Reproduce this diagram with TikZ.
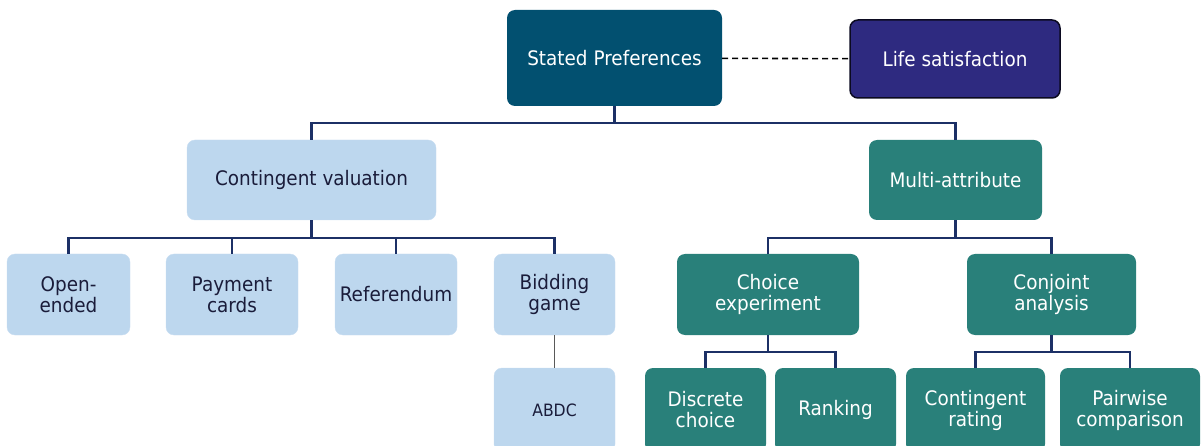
\documentclass[tikz,border=0pt]{standalone}
\usepackage{fontspec}
\setmainfont{DejaVu Sans}[FakeStretch=0.92]
\usetikzlibrary{positioning}

\definecolor{spblue}{RGB}{2,80,112}
\definecolor{lsviolet}{RGB}{46,42,128}
\definecolor{lightcv}{RGB}{189,215,238}
\definecolor{tealma}{RGB}{41,128,122}
\definecolor{treeline}{RGB}{28,48,102}
\definecolor{darktext}{RGB}{26,28,58}

\tikzset{
  box/.style={rounded corners=8pt,inner sep=0pt,align=center,
    font=\fontsize{20}{21}\selectfont},
  lightbox/.style={box,fill=lightcv,draw=lightcv!85!white,text=darktext},
  tealbox/.style={box,fill=tealma,text=white},
  tree/.style={draw=treeline,line width=2.2pt},
}

\begin{document}
\begin{tikzpicture}[x=1pt,y=-1pt]
 \useasboundingbox (0,0) rectangle (1201,446);
 % top level
 \node[box,fill=spblue,text=white,minimum width=215pt,minimum height=96pt] (sp) at (614.5,58) {Stated Preferences};
 \node[box,fill=lsviolet,draw=black!75!lsviolet,line width=1.5pt,text=white,minimum width=210pt,minimum height=78pt] (ls) at (955,59) {Life satisfaction};
 \draw[dash pattern=on 6pt off 4pt,line width=1.6pt] (sp) -- (ls);
 %
 \node[lightbox,minimum width=249pt,minimum height=80pt] (cv) at (311.5,180) {Contingent valuation};
 \node[tealbox,minimum width=173pt,minimum height=80pt] (ma) at (955.5,180) {Multi-attribute};
 \draw[tree] (sp.south) -- ++(0,17) coordinate (spbus);
 \draw[tree] (cv.north) |- (spbus) -| (ma.north);
 %
 \begin{scope}[every node/.append style={minimum height=81pt}]
  \node[lightbox,minimum width=123pt] (oe) at (68.5,294.5) {Open-\\ended};
  \node[lightbox,minimum width=132pt] (pc) at (232,294.5) {Payment\\cards};
  \node[lightbox,minimum width=122pt] (rf) at (396,294.5) {Referendum};
  \node[lightbox,minimum width=121pt] (bg) at (554.5,294.5) {Bidding\\game};
  \node[tealbox,minimum width=182pt] (ce) at (768,294.5) {Choice\\experiment};
  \node[tealbox,minimum width=169pt] (ca) at (1051.5,294.5) {Conjoint\\analysis};
 \end{scope}
 \draw[tree] (cv.south) -- ++(0,18) coordinate (cvbus);
 \draw[tree] (oe.north) |- (cvbus) -| (bg.north);
 \foreach \n in {pc,rf}
  {\draw[tree] (\n.north) -- (\n.north |- cvbus);}
 \draw[tree] (ma.south) -- ++(0,18) coordinate (mabus);
 \draw[tree] (ce.north) |- (mabus) -| (ca.north);
 %
 \begin{scope}[every node/.append style={minimum height=84pt}]
  \node[lightbox,minimum width=121pt,font=\fontsize{17}{19}\selectfont] (ab) at (554.5,410) {ABDC};
  \node[tealbox,minimum width=121pt] (dc) at (705.5,410) {Discrete\\choice};
  \node[tealbox,minimum width=121pt] (rk) at (835.5,410) {Ranking};
  \node[tealbox,minimum width=139pt] (cr) at (975.5,410) {Contingent\\rating};
  \node[tealbox,minimum width=140pt] (pw) at (1130,410) {Pairwise\\comparison};
 \end{scope}
 \draw[draw=black!65,line width=1.6pt] (bg) -- (ab);
 \draw[tree] (ce.south) -- ++(0,17) coordinate (cebus);
 \draw[tree] (dc.north) |- (cebus) -| (rk.north);
 \draw[tree] (ca.south) -- ++(0,17) coordinate (cabus);
 \draw[tree] (cr.north) |- (cabus) -| (pw.north);
\end{tikzpicture}
\end{document}
